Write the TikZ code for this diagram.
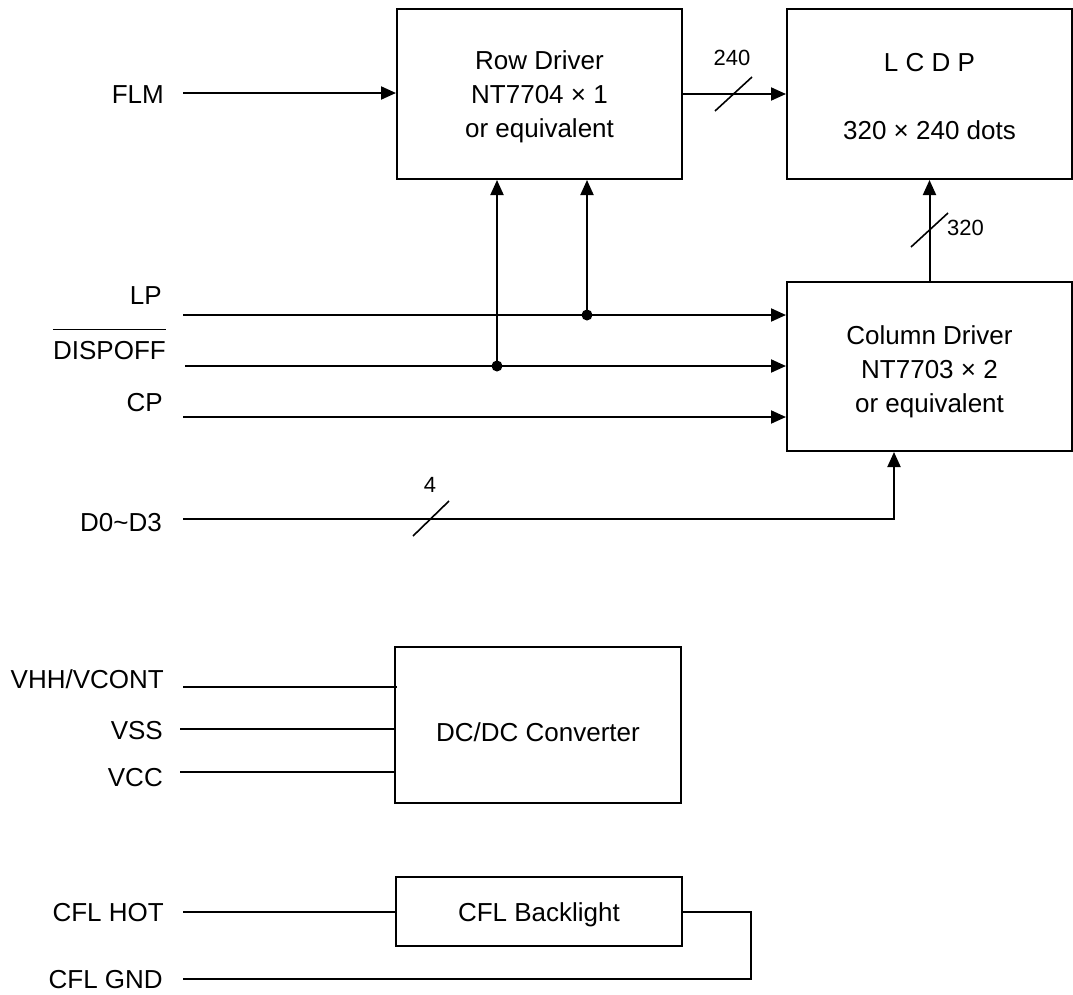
\documentclass[tikz,border=0pt]{standalone}
\usepackage{fontspec}
\setmainfont{Liberation Sans}
\usetikzlibrary{arrows.meta}
\begin{document}
\begin{tikzpicture}[x=1pt,y=-1pt,
  box/.style={draw, line width=2pt, minimum width=285pt, inner sep=0pt, align=center, font=\fontsize{26}{34}\selectfont},
  lbl/.style={inner sep=0pt, anchor=base east, font=\fontsize{26}{34}\selectfont},
  num/.style={inner sep=0pt, font=\fontsize{22}{26}\selectfont},
  wire/.style={line width=2pt},
  busmark/.style={line width=1.6pt},
  arr/.style={wire, -{Triangle[length=15pt,width=13pt]}},
  jdot/.style={circle, fill, inner sep=0pt, minimum size=11pt},
]
\useasboundingbox (0,0) rectangle (1073,994);

% blocks
\node[box, minimum height=170pt, text height=92pt, text depth=6pt] (row) at (539.5,94) {Row Driver\\NT7704 × 1\\or equivalent};
\node[box, minimum height=170pt, text height=91pt, text depth=0pt] (lcdp) at (929.5,94) {L C D P\\[34pt]320 × 240 dots};
\node[box, minimum height=169pt, text height=97pt, text depth=6pt] (col) at (929.5,366.5) {Column Driver\\NT7703 × 2\\or equivalent};
\node[box, minimum width=286pt, minimum height=156pt, text height=33pt, text depth=0pt] (dcdc) at (538,725) {DC/DC Converter};
\node[box, minimum width=286pt, minimum height=69pt, text height=19pt, text depth=0pt] (cfl) at (539,911.5) {CFL Backlight};

% labels
\node[lbl] (flm) at (164,103) {FLM};
\node[lbl] (lp) at (162,304) {LP};
\node[lbl] (disp) at (166,359) {DISPOFF};
\draw[line width=1.5pt] ([yshift=11pt]disp.north west) -- ([yshift=11pt]disp.north east);
\node[lbl] (cp) at (163,411) {CP};
\node[lbl] (d03) at (162,531) {D0\textasciitilde D3};
\node[lbl] (vhh) at (164,688) {VHH/VCONT};
\node[lbl] (vss) at (163,739) {VSS};
\node[lbl] (vcc) at (163,786) {VCC};
\node[lbl] (hot) at (164,921) {CFL HOT};
\node[lbl] (gnd) at (163,988) {CFL GND};

% wire start points
\coordinate (flmS) at (183,93);
\coordinate (lpS) at (183,315);
\coordinate (dispS) at (185,366);
\coordinate (cpS) at (183,417);
\coordinate (dS) at (183,519);
\coordinate (dC) at (894,519);
\coordinate (vhhS) at (183,687);
\coordinate (vssS) at (180,729);
\coordinate (vccS) at (180,772);
\coordinate (hotS) at (183,911.5);
\coordinate (gndS) at (183,979);
\coordinate (cflR) at (751,911.5);

% FLM -> row driver -> LCDP
\draw[arr] (flmS) -- (flmS -| row.west);
\draw[arr] (row.east) -- (lcdp.west);
\coordinate (busA) at (733.5,94);
\draw[busmark] ([shift={(-18.5,17)}]busA) -- ([shift={(18.5,-17)}]busA);
\node[num] (n240) at (732,58) {240};

% column driver -> LCDP
\draw[arr] (col.north) -- (lcdp.south);
\coordinate (busB) at (929.5,230);
\draw[busmark] ([shift={(-18.5,17)}]busB) -- ([shift={(18.5,-17)}]busB);
\node[num, anchor=west] (n320) at (947,228) {320};

% LP, DISPOFF, CP
\node[jdot] (j1) at (587,315) {};
\node[jdot] (j2) at (497,366) {};
\draw[arr] (lpS) -- (lpS -| col.west);
\draw[arr] (dispS) -- (dispS -| col.west);
\draw[arr] (cpS) -- (cpS -| col.west);
\draw[arr] (j1.center) -- (j1 |- row.south);
\draw[arr] (j2.center) -- (j2 |- row.south);

% D0~D3
\draw[arr] (dS) -- (dC) -- (dC |- col.south);
\coordinate (busC) at (431,518.5);
\draw[busmark] ([shift={(-18,17.5)}]busC) -- ([shift={(18,-17.5)}]busC);
\node[num] (n4) at (430,485) {4};

% DC/DC converter inputs
\draw[wire] (vhhS) -- ([xshift=3pt]vhhS -| dcdc.west);
\draw[wire] (vssS) -- (vssS -| dcdc.west);
\draw[wire] (vccS) -- (vccS -| dcdc.west);

% CFL backlight
\draw[wire] (hotS) -- (cfl.west);
\draw[wire] (cfl.east) -- (cflR) -- (cflR |- gndS) -- (gndS);
\end{tikzpicture}
\end{document}
